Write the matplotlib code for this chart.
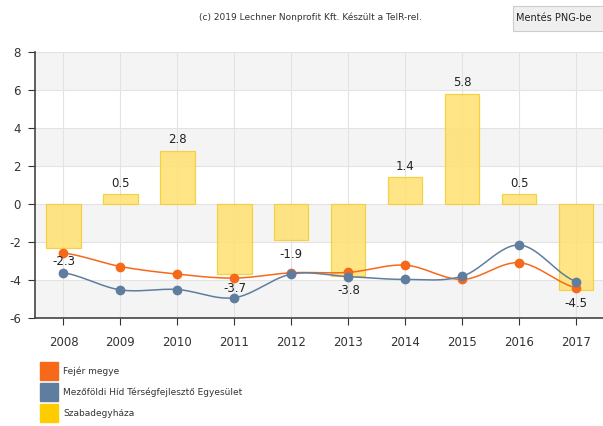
import numpy as np
import matplotlib
matplotlib.use("Agg")
import matplotlib.pyplot as plt
from matplotlib.patches import Rectangle, FancyBboxPatch

years = ["2008", "2009", "2010", "2011", "2012", "2013", "2014", "2015", "2016", "2017"]
fejer = [-2.58, -3.29, -3.69, -3.9, -3.62, -3.6, -3.22, -3.97, -3.09, -4.41]
mezofold = [-3.62, -4.52, -4.5, -4.93, -3.69, -3.82, -3.97, -3.8, -2.16, -4.08]
szabad = [-2.3, 0.5, 2.8, -3.7, -1.9, -3.8, 1.4, 5.8, 0.5, -4.5]
series_names = ["Fejér megye", "Mezőföldi Híd Térségfejlesztő Egyesület", "Szabadegyháza"]

C_ORANGE = "#f7691a"
C_BLUE = "#5f7d9e"
C_YELLOW = "#ffcc00"


def spline(x, y, n=30):
    """Catmull-Rom curve through the given points."""
    x = np.asarray(x, float)
    y = np.asarray(y, float)
    px = np.concatenate([[2 * x[0] - x[1]], x, [2 * x[-1] - x[-2]]])
    py = np.concatenate([[y[0]], y, [y[-1]]])
    xs, ys = [], []
    t = np.linspace(0, 1, n)
    for i in range(1, len(px) - 2):
        p0, p1, p2, p3 = py[i - 1], py[i], py[i + 1], py[i + 2]
        q1, q2 = px[i], px[i + 1]
        cy = 0.5 * ((2 * p1) + (-p0 + p2) * t + (2 * p0 - 5 * p1 + 4 * p2 - p3) * t**2
                    + (-p0 + 3 * p1 - 3 * p2 + p3) * t**3)
        cx = q1 + (q2 - q1) * t
        xs.append(cx)
        ys.append(cy)
    return np.concatenate(xs), np.concatenate(ys)


fig = plt.figure(figsize=(6.03, 4.26), dpi=100)
ax = fig.add_axes([0.058, 0.2535, 0.945, 0.6245])

x = np.arange(len(years))
ax.set_xlim(-0.5, len(years) - 0.5)
ax.set_ylim(-6, 8)

# alternating horizontal bands
for lo in range(-6, 8, 2):
    if ((lo + 6) // 2) % 2 == 0:
        ax.axhspan(lo, lo + 2, color="#f4f4f4", zorder=0, lw=0)
for yy in range(-6, 9, 2):
    ax.axhline(yy, color="#e3e3e3", lw=0.8, zorder=0.5)
for xx in x:
    ax.axvline(xx, color="#e3e3e3", lw=0.8, zorder=0.5)

ax.bar(x, szabad, width=0.6, color="#ffe170", edgecolor="#f4cc30", lw=0.9, alpha=0.85, zorder=2)

for xv, v in zip(x, szabad):
    off = 0.25 if v >= 0 else -0.4
    ax.text(xv, v + off, f"{v:.1f}", ha="center", va="bottom" if v >= 0 else "top",
            fontsize=8.5, color="#222222", zorder=5)

sx, sy = spline(x, fejer)
ax.plot(sx, sy, color=C_ORANGE, lw=1.1, zorder=3)
ax.plot(x, fejer, "o", color=C_ORANGE, ms=6, zorder=4)
sx, sy = spline(x, mezofold)
ax.plot(sx, sy, color=C_BLUE, lw=1.1, zorder=3)
ax.plot(x, mezofold, "o", color=C_BLUE, ms=6, zorder=4)

ax.set_xticks(x)
ax.set_xticklabels(years, fontsize=8.5)
ax.set_yticks(range(-6, 9, 2))
ax.set_yticklabels([str(v) for v in range(-6, 9, 2)], fontsize=8.5)
ax.tick_params(axis="x", colors="#333333", length=5, width=0.8, pad=8)
ax.tick_params(axis="y", colors="#333333", length=5, width=0.8, pad=5)
for s in ["top", "right"]:
    ax.spines[s].set_visible(False)
for s in ["left", "bottom"]:
    ax.spines[s].set_color("#444444")
    ax.spines[s].set_linewidth(1.2)

# legend
leg_colors = [C_ORANGE, C_BLUE, C_YELLOW]
for i, (name, c) in enumerate(zip(series_names, leg_colors)):
    top = 362 + i * 21
    fig.patches.append(Rectangle((40 / 603, 1 - (top + 18) / 426), 18 / 603, 18 / 426,
                                 transform=fig.transFigure, color=c))
    fig.text(63 / 603, 1 - (top + 9) / 426, name, fontsize=6.5, va="center", color="#333333")

fig.text(310 / 603, 1 - 17 / 426, "(c) 2019 Lechner Nonprofit Kft. Készült a TeIR-rel.",
         fontsize=6.5, ha="center", va="center", color="#333333")

fig.patches.append(FancyBboxPatch((513 / 603, 1 - 31 / 426), 95 / 603, 25 / 426,
                                  boxstyle="square,pad=0", transform=fig.transFigure,
                                  facecolor="#efefef", edgecolor="#cccccc", lw=0.8))
fig.text(516 / 603, 1 - 18 / 426, "Mentés PNG-be", fontsize=7, va="center", color="#222222")

fig.savefig("out.png", dpi=100)
